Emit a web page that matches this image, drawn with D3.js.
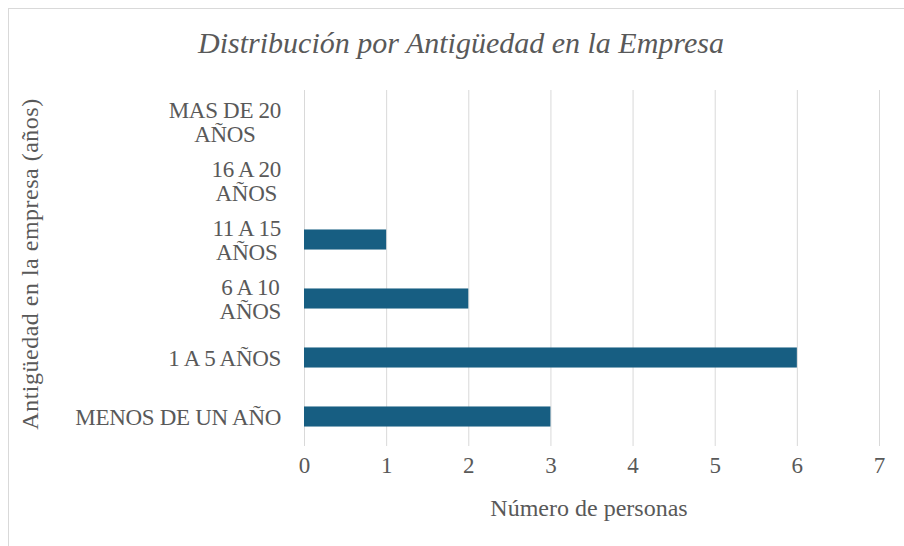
<!DOCTYPE html>
<html>
<head>
<meta charset="utf-8">
<script src="https://cdn.jsdelivr.net/npm/d3@7"></script>
</head>
<body style="margin:0; background:#fff">
<script>
// datos
var categories = ["MENOS DE UN AÑO", "1 A 5 AÑOS", "6 A 10 AÑOS", "11 A 15 AÑOS", "16 A 20 AÑOS", "MAS DE 20 AÑOS"];
var labelLines = [["MENOS DE UN AÑO"], ["1 A 5 AÑOS"], ["6 A 10", "AÑOS"], ["11 A 15", "AÑOS"], ["16 A 20", "AÑOS"], ["MAS DE 20", "AÑOS"]];
var values = [3, 6, 2, 1, 0, 0];
var xTicks = [0, 1, 2, 3, 4, 5, 6, 7];

var width = 904;
var height = 546;
var grey = "#595959";

var svg = d3.select("body")
            .append("svg")
               .attr("width", width)
               .attr("height", height);

// marco del grafico
svg.append("rect")
   .attr("x", 8.5)
   .attr("y", 8.5)
   .attr("width", width)
   .attr("height", height)
   .attr("fill", "#fff")
   .attr("stroke", "#d9d9d9");

var x = d3.scaleLinear()
         .domain([0, 7])
         .range([304, 879]);

var y = d3.scaleBand()
         .domain(categories)
         .range([446, 92])
         .paddingInner(0.66)
         .paddingOuter(0.33);

// lineas de cuadricula
svg.append("g")
   .selectAll("line")
   .data(xTicks)
   .enter().append("line")
      .attr("x1", function(d) { return x(d) + 0.5; })
      .attr("x2", function(d) { return x(d) + 0.5; })
      .attr("y1", 90)
      .attr("y2", 446)
      .attr("stroke", "#d9d9d9")
      .attr("stroke-width", 1);

// barras
svg.selectAll(".bar")
   .data(categories)
   .enter().append("rect")
      .attr("class", "bar")
      .attr("x", x(0))
      .attr("y", function(d) { return y(d); })
      .attr("width", function(d, i) { return x(values[i]) - x(0); })
      .attr("height", y.bandwidth())
      .attr("fill", "#175e82");

// eje x
var xAxis = d3.axisBottom(x)
         .tickValues(xTicks)
         .tickFormat(d3.format("d"))
         .tickSize(0)
         .tickPadding(0);

var gx = svg.append("g")
   .attr("transform", "translate(0,465)")
   .call(xAxis);
gx.select(".domain").remove();
gx.attr("font-family", "Liberation Serif").attr("font-size", 23);
gx.selectAll("text")
   .attr("dy", "0.35em")
   .attr("fill", grey);

// etiquetas de categorias (centradas por linea, bloque alineado a la derecha)
var labels = svg.append("g")
   .attr("font-family", "Liberation Serif")
   .attr("font-size", 23);
categories.forEach(function(c, i) {
   var lines = labelLines[i];
   var cy = y(c) + y.bandwidth() / 2;
   var lh = 24;
   var t = labels.append("text")
      .attr("text-anchor", "middle")
      .attr("fill", grey)
      .attr("letter-spacing", -0.3);
   lines.forEach(function(l, j) {
      t.append("tspan")
         .attr("x", 0)
         .attr("y", cy + (j - (lines.length - 1) / 2) * lh)
         .attr("dy", "0.35em")
         .text(l);
   });
   var w = t.node().getBBox().width;
   t.selectAll("tspan").attr("x", 281 - w / 2);
});

// titulo
svg.append("text")
   .attr("x", 461)
   .attr("y", 42)
   .attr("dy", "0.35em")
   .attr("text-anchor", "middle")
   .attr("fill", grey)
   .attr("font-family", "Liberation Serif")
   .attr("font-size", 30)
   .attr("font-style", "italic")
   .text("Distribución por Antigüedad en la Empresa");

// titulos de ejes
svg.append("text")
   .attr("x", 589)
   .attr("y", 508)
   .attr("dy", "0.35em")
   .attr("text-anchor", "middle")
   .attr("fill", grey)
   .attr("font-family", "Liberation Serif")
   .attr("font-size", 24)
   .text("Número de personas");

svg.append("text")
   .attr("transform", "translate(30,264) rotate(-90)")
   .attr("dy", "0.35em")
   .attr("text-anchor", "middle")
   .attr("fill", grey)
   .attr("font-family", "Liberation Serif")
   .attr("font-size", 24)
   .attr("letter-spacing", 0.5)
   .text("Antigüedad en la empresa (años)");
</script>
</body>
</html>
